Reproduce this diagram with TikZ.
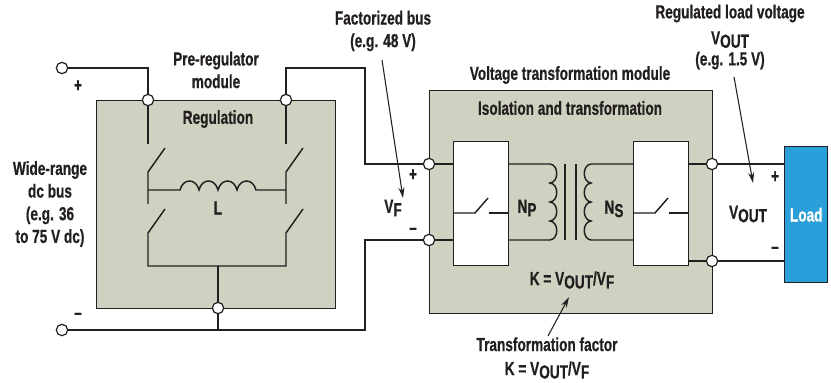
\documentclass[tikz,border=0pt]{standalone}
\usepackage{fontspec}
\setmainfont{Liberation Sans}[BoldFont={Liberation Sans Bold},BoldFeatures={FakeStretch=0.72,FakeBold=0.6},FakeStretch=0.72]
\usetikzlibrary{arrows.meta}
\pgfdeclarelayer{boxes}
\pgfdeclarelayer{wires}
\pgfsetlayers{boxes,wires,main}
\definecolor{modgray}{HTML}{CFD2C0}
\definecolor{loadblue}{HTML}{2B9FD9}
\definecolor{ink}{HTML}{231F20}
\newcommand{\lo}[1]{\raisebox{-0.34ex}{#1}}
\newcommand{\Vout}{V\lo{OUT}}
\newcommand{\Vf}{V\lo{F}}
\tikzset{
  lab/.style={font=\fontsize{14.2}{17}\selectfont\bfseries,text=ink,align=center,inner sep=0pt},
  module/.style={draw=ink,line width=1.1pt,fill=modgray,inner sep=0pt,anchor=north west},
  whitebox/.style={draw=ink,line width=1pt,fill=white,inner sep=0pt,anchor=north west,minimum width=41pt,minimum height=93pt},
  term/.style={circle,draw=ink,line width=0.9pt,fill=white,minimum size=8.5pt,inner sep=0pt},
  bus/.style={draw=ink,line width=1.8pt},
  wire/.style={draw=ink,line width=1.1pt},
  pointer/.style={draw=ink,line width=0.8pt,-{Stealth[length=8pt,width=4.5pt]}}
}
\begin{document}
\begin{tikzpicture}[x=0.75pt,y=-0.75pt]
\useasboundingbox (0,0) rectangle (831,382);
% modules
\begin{pgfonlayer}{boxes}
\node[module,minimum width=179.25pt,minimum height=156pt] (pre) at (96,100) {};
\node[module,minimum width=212.25pt,minimum height=167.25pt] (vtm) at (429,90) {};
\end{pgfonlayer}
\node[whitebox] (bl) at (453,141) {};
\node[whitebox] (br) at (633,141) {};
\node[draw=ink,line width=1.1pt,fill=loadblue,inner sep=0pt,anchor=north west,minimum width=32.25pt,minimum height=102pt,font=\fontsize{14.2}{17}\selectfont\bfseries,text=white] (load) at (784,146) {Load};
% terminals
\node[term] (tp) at (62,68) {};
\node[term] (tn) at (62,330) {};
\node[term] (a) at (148,100) {};
\node[term] (b) at (286,100) {};
\node[term] (c) at (218,308) {};
\node[term] (d) at (429,164) {};
\node[term] (e) at (429,240) {};
\node[term] (f) at (712,164) {};
\node[term] (g) at (712,261) {};
% free ends
\coordinate (sa) at (148,144);
\coordinate (sb) at (286,144);
\coordinate (ml) at (148,190);
\coordinate (mr) at (286,190);
\coordinate (bj) at (218,266);
\begin{pgfonlayer}{wires}
% buses
\draw[bus] (tp) -| (a);
\draw[bus] (b) |- (365,68) |- (d);
\draw[bus] (tn) -- (365,330) |- (e);
\draw[bus] (c) -- (218,330);
\draw[bus] (f) -- (f-|load.west);
\draw[bus] (g) -- (g-|load.west);
% pre-regulator switches
\draw[wire] (a) -- (sa);
\draw[wire] (b) -- (sb);
\draw[wire] (165,148) -- (148,172) -- (148,204);
\draw[wire] (303,148) -- (286,172) -- (286,204);
\draw[wire] (165,209) -- (148,233) -- (148,266) -- (286,266) -- (286,233) -- (303,209);
\draw[wire] (bj) -- (c);
\draw[wire] (ml) -- (180,190)
  .. controls +(3,-12) and +(-3,-12) .. ++(19,0)
  .. controls +(3,-12) and +(-3,-12) .. ++(19,0)
  .. controls +(3,-12) and +(-3,-12) .. ++(19,0)
  .. controls +(3,-12) and +(-3,-12) .. ++(19,0) -- (mr);
% isolation stage
\draw[wire] (d) -- (bl.west|-d);
\draw[wire] (e) -- (bl.west|-e);
\draw[wire] (br.east|-f) -- (f);
\draw[wire] (br.east|-g) -- (g);
\draw[wire] (bl.east|-d) -- (550,164)
  .. controls +(9,1) and +(9,-1) .. ++(0,19)
  .. controls +(9,1) and +(9,-1) .. ++(0,19)
  .. controls +(9,1) and +(9,-1) .. ++(0,19)
  .. controls +(9,1) and +(9,-1) .. ++(0,19) -- (bl.east|-e);
\draw[wire] (br.west|-d) -- (591,164)
  .. controls +(-9,1) and +(-9,-1) .. ++(0,19)
  .. controls +(-9,1) and +(-9,-1) .. ++(0,19)
  .. controls +(-9,1) and +(-9,-1) .. ++(0,19)
  .. controls +(-9,1) and +(-9,-1) .. ++(0,19) -- (br.west|-e);
\draw[wire] (565,164) -- (565,240);
\draw[wire] (576,164) -- (576,240);
\end{pgfonlayer}
% switches inside the white boxes
\draw[wire] (bl.west|-0,213) -- (475,213) -- (488,198);
\draw[wire] (489,213) -- (bl.east|-0,213);
\draw[wire] (br.west|-0,213) -- (655,213) -- (668,198);
\draw[wire] (669,213) -- (br.east|-0,213);
% labels
\node[lab] (lpre) at (216,70) {Pre-regulator\\module};
\node[lab] (lreg) at (218,119) {Regulation};
\node[lab] (lwide) at (50,204) {Wide-range\\dc bus\\(e.g. 36\\to 75 V dc)};
\node[lab] at (78,86) {+};
\node[lab] at (78,316) {–};
\node[lab] (lL) at (218,208) {L};
\node[lab] (lfb) at (383,31) {Factorized bus\\(e.g. 48 V)};
\node[lab] (lvf) at (393,208) {\Vf};
\node[lab] at (413,175) {+};
\node[lab] at (413,231) {–};
\node[lab] (lvtm) at (570,75) {Voltage transformation module};
\node[lab] (liso) at (570,108) {Isolation and transformation};
\node[lab] (lnp) at (527,208) {N\lo{P}};
\node[lab] (lns) at (614,209) {N\lo{S}};
\node[lab] (lk) at (572,280) {K = \Vout/\Vf};
\node[lab] (lrl) at (730,37) {Regulated load voltage\\[2.5pt]\Vout\\[-1.25pt](e.g. 1.5 V)};
\node[lab] (lvo) at (748,214) {\Vout};
\node[lab] at (775,177) {+};
\node[lab] at (775,250) {–};
\node[lab] (ltf) at (547,358) {Transformation factor\\[1pt]K = \Vout/\Vf};
% pointers
\coordinate (pf) at (382,60);
\coordinate (pfe) at (403,198);
\coordinate (pv) at (734,77);
\coordinate (pve) at (753,183);
\coordinate (pk) at (548,336);
\coordinate (pke) at (569,297);
\draw[pointer] (pf) -- (pfe);
\draw[pointer] (pv) -- (pve);
\draw[pointer] (pk) -- (pke);
\end{tikzpicture}
\end{document}
